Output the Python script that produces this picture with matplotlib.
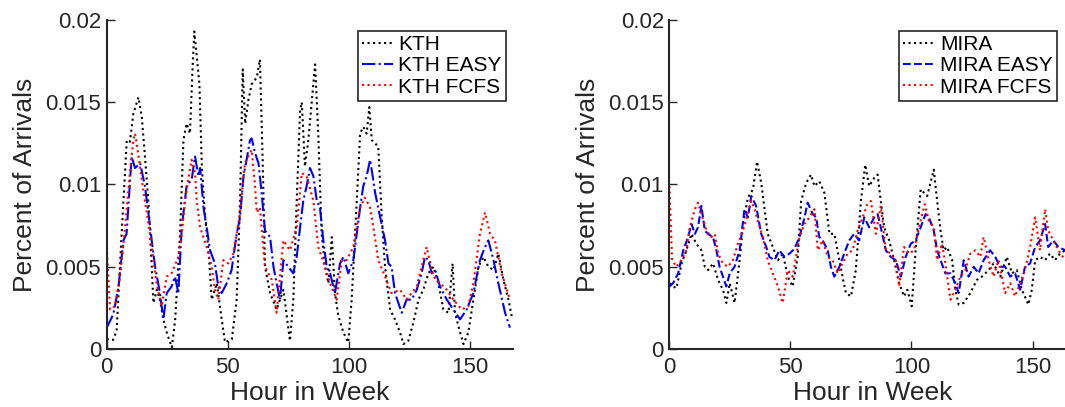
import matplotlib
matplotlib.use("Agg")
import matplotlib.pyplot as plt
from matplotlib.ticker import FormatStrFormatter

plt.rcParams['font.family'] = ['Liberation Sans', 'DejaVu Sans']

# ---- KTH (left panel) ----
kth_h = [0, 2.6, 4.1, 6.2, 8.3, 9.6, 11, 13.1, 14.5, 15.8, 17.2, 18.6, 19.3, 20.7, 22, 23.4, 24.8,
         26.9, 28.3, 30.3, 31.7, 33, 34.4, 35.5, 36.2, 37.2, 38.3, 39.3, 40.6, 42, 43.4, 45.5, 47.5,
         48.9, 51.7, 53.7, 55.1, 56.2, 57.2, 58.5, 59.9, 62, 63.3, 64.5, 65.4, 67.5, 70.2, 73, 74.4,
         75.7, 77.1, 78.5, 79.9, 80.6, 81.9, 83.3, 84.7, 86.1, 87.4, 88.8, 90.2, 91.6, 93, 94.3, 95.7,
         97.8, 99.8, 101.2, 103.3, 104.7, 106, 107.4, 108.5, 109.5, 110.9, 112.2, 113.6, 115, 117.1,
         119.1, 121.2, 122.6, 124.6, 126.7, 128.8, 130.8, 132.9, 135, 137, 139.1, 141.2, 142.9, 143.9,
         146, 147.4, 149.4, 151.5, 153.6, 155.6, 157.7, 159.8, 161.8, 163.9, 166, 167.3]
kth = [0.0006, 0.00055, 0.0011, 0.0071, 0.0127, 0.0126, 0.0143, 0.0153, 0.0141, 0.0117, 0.0090,
       0.0050, 0.0028, 0.0036, 0.0030, 0.0018, 0.0010, 0.0001, 0.0018, 0.0070, 0.0127, 0.0137,
       0.0131, 0.0172, 0.0193, 0.0178, 0.0161, 0.0111, 0.0081, 0.0061, 0.0030, 0.0040, 0.0018,
       0.0004, 0.0006, 0.0030, 0.0090, 0.0170, 0.0137, 0.0151, 0.0161, 0.0165, 0.0176, 0.0111,
       0.0050, 0.0034, 0.0024, 0.0036, 0.0020, 0.0005, 0.0030, 0.0090, 0.0145, 0.0150, 0.0111,
       0.0127, 0.0150, 0.0173, 0.0131, 0.0070, 0.0050, 0.0040, 0.0068, 0.0034, 0.0020, 0.0010,
       0.0004, 0.0030, 0.0090, 0.0131, 0.0135, 0.0131, 0.0147, 0.0127, 0.0125, 0.0123, 0.0081,
       0.0050, 0.0024, 0.0018, 0.0010, 0.0003, 0.0005, 0.0016, 0.0030, 0.0036, 0.0046, 0.0050,
       0.0040, 0.0024, 0.0022, 0.0052, 0.0022, 0.0010, 0.0003, 0.0010, 0.0030, 0.0050, 0.0056,
       0.0050, 0.0048, 0.0058, 0.0042, 0.0030, 0.0020]

kth_easy_h = [0, 2.7, 4.8, 6.9, 8.2, 10.3, 11.7, 13.8, 15.8, 17.2, 18.6, 20, 22, 23.4, 24.8, 26.8,
              28.2, 29.6, 31, 33, 35.1, 36.5, 37.9, 38.6, 40, 41.3, 42.7, 44.7, 46.1, 47.5, 49.6,
              51.6, 53.7, 55.1, 56.5, 57.8, 59.2, 59.9, 61.3, 62.7, 64, 65.4, 67.5, 68.9, 70.2,
              71.6, 73, 75, 77.1, 78.5, 79.9, 81.2, 82.6, 84, 85.4, 86.8, 88.1, 89.5, 90.9, 92.3,
              94.3, 96.4, 97.8, 99.8, 101.9, 103.3, 104.7, 106, 107.4, 108.8, 109.9, 110.9, 113,
              115, 116.4, 117.7, 119.1, 121.9, 123.9, 126, 128.1, 130.1, 131.5, 132.9, 134.3,
              135.7, 137.7, 140.5, 143.2, 146, 148.7, 151.5, 154.2, 156.3, 157.7, 159.8, 161.8,
              164.6, 166.6]
kth_easy = [0.0013, 0.0021, 0.0037, 0.0066, 0.0070, 0.0117, 0.0110, 0.0113, 0.0099, 0.0083,
            0.0066, 0.0050, 0.0034, 0.0018, 0.0034, 0.0038, 0.0044, 0.0034, 0.0074, 0.0099,
            0.0103, 0.0117, 0.0105, 0.0110, 0.0086, 0.0074, 0.0060, 0.0052, 0.0038, 0.0034,
            0.0040, 0.0048, 0.0070, 0.0080, 0.0105, 0.0115, 0.0127, 0.0128, 0.0119, 0.0113,
            0.0095, 0.0072, 0.0068, 0.0050, 0.0040, 0.0030, 0.0054, 0.0050, 0.0046, 0.0056,
            0.0074, 0.0090, 0.0099, 0.0110, 0.0105, 0.0090, 0.0086, 0.0066, 0.0050, 0.0046,
            0.0034, 0.0052, 0.0056, 0.0046, 0.0054, 0.0070, 0.0086, 0.0099, 0.0105, 0.0115,
            0.0105, 0.0095, 0.0080, 0.0066, 0.0052, 0.0050, 0.0034, 0.0022, 0.0030, 0.0030,
            0.0036, 0.0046, 0.0056, 0.0054, 0.0046, 0.0048, 0.0038, 0.0030, 0.0024, 0.0018,
            0.0024, 0.0034, 0.0054, 0.0062, 0.0066, 0.0054, 0.0040, 0.0022, 0.0013]

kth_fcfs_h = [0, 1.4, 3.4, 5.5, 7.6, 9.6, 11, 11.7, 12.7, 13.8, 15.8, 17.9, 19.3, 20.6, 22.7, 24.8,
              26.8, 29.6, 31, 32.4, 33.7, 35.1, 36.5, 37.2, 38.6, 41.3, 43.4, 44.7, 46.1, 48.2,
              50.3, 52.3, 53.7, 55.1, 57.1, 59.9, 61.3, 62, 63.3, 65.4, 68.2, 70.2, 73, 75.7,
              78.5, 80.6, 82.6, 85.4, 87.4, 90.2, 92.3, 95, 97.1, 99.1, 101.9, 104.7, 106.7, 108.8,
              110.2, 112.2, 115, 117.7, 121.2, 123.9, 128.1, 132.2, 135, 137.7, 140.5, 143.2,
              146.7, 149.4, 151.5, 154.2, 156.3, 158.4, 160.4, 163.2, 166.6]
kth_fcfs = [0.0062, 0.0024, 0.0026, 0.0044, 0.0074, 0.0107, 0.0127, 0.0131, 0.0122, 0.0110,
            0.0090, 0.0070, 0.0054, 0.0040, 0.0026, 0.0044, 0.0046, 0.0056, 0.0070, 0.0090,
            0.0103, 0.0115, 0.0107, 0.0090, 0.0074, 0.0062, 0.0050, 0.0036, 0.0030, 0.0054,
            0.0052, 0.0058, 0.0070, 0.0083, 0.0113, 0.0121, 0.0099, 0.0083, 0.0086, 0.0050,
            0.0042, 0.0022, 0.0066, 0.0060, 0.0074, 0.0107, 0.0105, 0.0090, 0.0062, 0.0050,
            0.0040, 0.0030, 0.0054, 0.0054, 0.0062, 0.0086, 0.0092, 0.0086, 0.0074, 0.0054,
            0.0044, 0.0034, 0.0036, 0.0030, 0.0038, 0.0062, 0.0044, 0.0040, 0.0036, 0.0030,
            0.0024, 0.0026, 0.0040, 0.0070, 0.0083, 0.0070, 0.0066, 0.0046, 0.0030]

# ---- MIRA (right panel) ----
mira_h = [0, 1.5, 2.9, 5, 7, 9.1, 11.1, 13.2, 14.6, 16, 18, 20.1, 22.1, 23.5, 24.9, 26.9, 29, 30.4,
          32.4, 34.5, 36.2, 37.9, 39.3, 40.6, 42.7, 44.8, 46.8, 48.9, 50.9, 53, 54.4, 56.5, 58.5,
          59.9, 61.9, 64, 66.1, 68.1, 70.2, 71.5, 72.9, 75, 77, 79.1, 80.9, 82.5, 84.6, 86, 87.3,
          88.7, 90.8, 92.8, 94.9, 96.9, 98.3, 100.1, 101.7, 103.8, 106.5, 109.2, 110.6, 112,
          113.3, 114.7, 116.8, 118.1, 119.5, 121.6, 124.3, 127, 129.1, 131.9, 133.9, 136.7, 139.4,
          141.5, 143.5, 145.6, 148.3, 149.7, 151.1, 153.1, 155.2, 157.2, 159.3, 161.3, 163.5]
mira = [0.0040, 0.0038, 0.0037, 0.0052, 0.0060, 0.0070, 0.0064, 0.0060, 0.0050, 0.0048, 0.0052,
        0.0042, 0.0036, 0.0028, 0.0040, 0.0028, 0.0054, 0.0076, 0.0092, 0.0097, 0.0114, 0.0101,
        0.0085, 0.0070, 0.0062, 0.0054, 0.0058, 0.0044, 0.0038, 0.0056, 0.0090, 0.0101, 0.0106,
        0.0099, 0.0102, 0.0095, 0.0070, 0.0070, 0.0054, 0.0044, 0.0034, 0.0032, 0.0048, 0.0090,
        0.0112, 0.0099, 0.0104, 0.0106, 0.0090, 0.0074, 0.0066, 0.0054, 0.0040, 0.0032, 0.0036,
        0.0026, 0.0060, 0.0097, 0.0093, 0.0109, 0.0090, 0.0072, 0.0060, 0.0062, 0.0054, 0.0036,
        0.0027, 0.0028, 0.0034, 0.0042, 0.0044, 0.0048, 0.0052, 0.0044, 0.0056, 0.0046, 0.0048,
        0.0036, 0.0027, 0.0036, 0.0054, 0.0056, 0.0054, 0.0058, 0.0054, 0.0058, 0.0060]

mira_easy_h = [0, 1.5, 3.6, 5.7, 7.7, 9.1, 10.5, 11.8, 13.2, 14.6, 15.9, 18, 19.4, 20.7, 22.1, 23.5,
               24.9, 26.9, 29, 31, 32.4, 33.8, 35.8, 37.9, 40, 41.3, 43.4, 45.4, 47.5, 49.6, 51.7,
               53.7, 55.8, 57.1, 59.2, 60.6, 61.9, 63.3, 65.4, 66.7, 68.1, 70.2, 72.2, 74.3, 76.3,
               78.4, 80.5, 82.5, 84.6, 86, 87.3, 89.4, 91.4, 93.5, 95.6, 97.6, 99.7, 101.7, 103.8,
               105.8, 107.2, 109.2, 110.6, 112, 114, 116.1, 118.1, 119.5, 121.6, 123.6, 125.7,
               127.7, 129.8, 132.5, 134.6, 136.6, 138.7, 140.8, 142.8, 144.9, 146.9, 149, 151.1,
               153.1, 155.2, 156.5, 158.6, 160.7, 163.5]
mira_easy = [0.0038, 0.0040, 0.0046, 0.0060, 0.0068, 0.0076, 0.0070, 0.0074, 0.0087, 0.0072,
             0.0070, 0.0068, 0.0060, 0.0050, 0.0044, 0.0038, 0.0046, 0.0050, 0.0060, 0.0085,
             0.0080, 0.0093, 0.0087, 0.0070, 0.0062, 0.0056, 0.0054, 0.0060, 0.0056, 0.0058,
             0.0061, 0.0068, 0.0080, 0.0089, 0.0082, 0.0080, 0.0068, 0.0066, 0.0060, 0.0050,
             0.0044, 0.0050, 0.0058, 0.0066, 0.0070, 0.0066, 0.0080, 0.0074, 0.0080, 0.0082,
             0.0074, 0.0060, 0.0056, 0.0054, 0.0044, 0.0056, 0.0064, 0.0066, 0.0074, 0.0082,
             0.0080, 0.0072, 0.0060, 0.0054, 0.0046, 0.0046, 0.0040, 0.0034, 0.0054, 0.0044,
             0.0050, 0.0046, 0.0054, 0.0060, 0.0056, 0.0050, 0.0050, 0.0044, 0.0046, 0.0036,
             0.0050, 0.0052, 0.0062, 0.0066, 0.0076, 0.0062, 0.0066, 0.0062, 0.0060]

mira_fcfs_h = [0, 1.1, 2.9, 5, 7, 8.4, 10.5, 11.8, 13.2, 15.3, 17.3, 18.7, 20.1, 22.1, 24.2, 26.2,
               28.3, 30.4, 32.4, 33.8, 35.2, 36.5, 38.6, 40.6, 42.7, 44.8, 46.8, 48.9, 50.9, 53.7,
               55.8, 57.8, 59.9, 61.3, 63.3, 65.4, 67.4, 69.5, 71.5, 73.6, 75.7, 77.7, 79.8, 81.8,
               83.2, 85.3, 87.3, 89.4, 91.4, 93.5, 94.9, 96.9, 99, 101, 103.1, 105.5, 107.2, 109.2,
               110.6, 112.6, 114, 116.1, 118.1, 120.2, 122.2, 124.3, 126.4, 128.4, 129.8, 131.9,
               133.9, 136, 138.7, 140.8, 142.8, 144.9, 146.9, 149, 151.1, 153.1, 155.2, 156.5,
               158.6, 160.7, 163.5]
mira_fcfs = [0.0099, 0.0054, 0.0050, 0.0054, 0.0060, 0.0074, 0.0085, 0.0089, 0.0082, 0.0072,
             0.0068, 0.0070, 0.0058, 0.0052, 0.0050, 0.0054, 0.0064, 0.0072, 0.0082, 0.0090,
             0.0085, 0.0078, 0.0068, 0.0054, 0.0046, 0.0038, 0.0028, 0.0048, 0.0044, 0.0068,
             0.0076, 0.0080, 0.0085, 0.0060, 0.0066, 0.0056, 0.0054, 0.0046, 0.0052, 0.0058,
             0.0060, 0.0072, 0.0080, 0.0088, 0.0090, 0.0070, 0.0087, 0.0060, 0.0058, 0.0054,
             0.0038, 0.0062, 0.0058, 0.0060, 0.0074, 0.0088, 0.0078, 0.0074, 0.0054, 0.0064,
             0.0052, 0.0030, 0.0036, 0.0044, 0.0048, 0.0058, 0.0060, 0.0056, 0.0068, 0.0054,
             0.0044, 0.0054, 0.0034, 0.0040, 0.0032, 0.0040, 0.0048, 0.0062, 0.0080, 0.0060,
             0.0085, 0.0072, 0.0066, 0.0060, 0.0054]

xticks = [0, 50, 100, 150]
yticks = [0, 0.005, 0.01, 0.015, 0.02]
txt = '#262626'

fig = plt.figure(figsize=(10.65, 4.07), dpi=100)
ax1 = fig.add_axes([0.1002, 0.1425, 0.3818, 0.8084])
ax2 = fig.add_axes([0.6286, 0.1425, 0.3818, 0.8084])

panels = [
    (ax1, 'KTH', kth_h, kth, kth_easy_h, kth_easy, kth_fcfs_h, kth_fcfs, '-.', 0.982),
    (ax2, 'MIRA', mira_h, mira, mira_easy_h, mira_easy, mira_fcfs_h, mira_fcfs, '--', 0.952),
]

for ax, name, h0, v0, h1, v1, h2, v2, easy_ls, lx in panels:
    ax.plot(h0, v0, color='black', ls=':', lw=1.5, label=name)
    ax.plot(h1, v1, color='#0000ff', ls=easy_ls, lw=1.5, label=name + ' EASY')
    ax.plot(h2, v2, color='#ff0000', ls=':', lw=1.5, label=name + ' FCFS')
    ax.set_xlim(0, 168)
    ax.set_ylim(0, 0.02)
    ax.set_xticks(xticks)
    ax.set_yticks(yticks)
    ax.yaxis.set_major_formatter(FormatStrFormatter('%g'))
    ax.tick_params(direction='in', length=6, width=1, labelsize=16, colors=txt, pad=4)
    ax.tick_params(axis='x', pad=6)
    for s in ['top', 'right']:
        ax.spines[s].set_visible(False)
    for s in ['left', 'bottom']:
        ax.spines[s].set_linewidth(1.5)
        ax.spines[s].set_color(txt)
    ax.set_xlabel('Hour in Week', fontsize=19, color=txt, labelpad=2)
    ax.set_ylabel('Percent of Arrivals', fontsize=19, color=txt, labelpad=6)
    leg = ax.legend(loc='upper right', bbox_to_anchor=(lx, 0.966), borderaxespad=0,
                    fontsize=15, fancybox=False, framealpha=1, edgecolor='#262626',
                    handlelength=1.5, handletextpad=0.25, labelspacing=0.1, borderpad=0.2)
    leg.get_frame().set_linewidth(1.2)

fig.savefig('out.png', dpi=100)
